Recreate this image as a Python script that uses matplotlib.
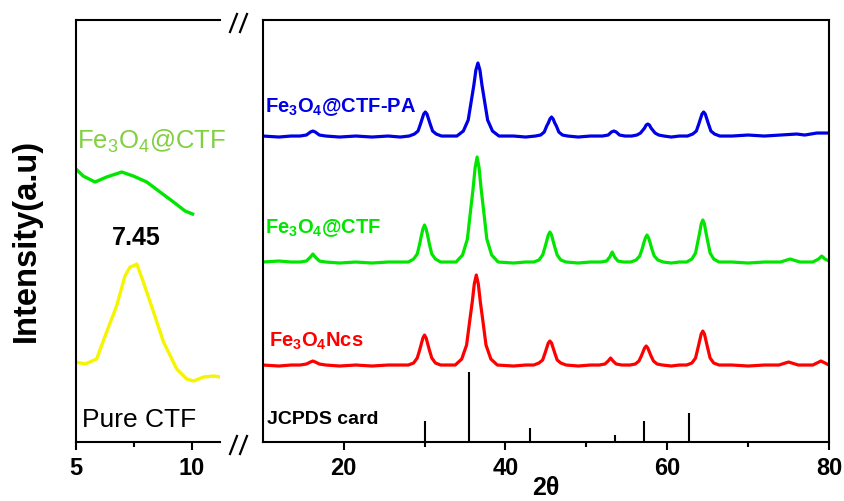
import matplotlib
matplotlib.use("Agg")
from matplotlib import pyplot as plt
from matplotlib.lines import Line2D
from matplotlib.ticker import FixedLocator

plt.rcParams['font.family'] = ['Liberation Sans', 'DejaVu Sans']
plt.rcParams['mathtext.fontset'] = 'custom'
plt.rcParams['mathtext.rm'] = 'Liberation Sans'
plt.rcParams['mathtext.bf'] = 'Liberation Sans:bold'

# --- right panel: XRD patterns (2theta, intensity a.u.) ---
pa_x = [10, 12, 13.5,
        14.6, 15.4, 15.9, 16.2, 16.5, 17.0, 17.8,
        19.5, 21.5, 23.5, 25.5, 27,
        28.1, 28.75, 29.2, 29.5, 29.7, 29.9, 30.1, 30.3, 30.5, 30.7, 31.0, 31.45, 32.1,
        34.0, 34.8, 35.4, 35.8, 36.1, 36.35, 36.6, 36.85, 37.1, 37.4, 37.8, 38.4, 39.2,
        41, 42.5,
        43.7, 44.35, 44.8, 45.1, 45.3, 45.5, 45.7, 45.9, 46.1, 46.3, 46.6, 47.05, 47.7,
        49, 50.5,
        52.0, 52.7, 53.1, 53.4, 53.7, 54.1, 54.8,
        55.6, 56.25, 56.7, 57.0, 57.2, 57.4, 57.6, 57.8, 58.0, 58.2, 58.5, 58.95, 59.6,
        60.5, 61.5,
        62.5, 63.15, 63.6, 63.9, 64.1, 64.3, 64.5, 64.7, 64.9, 65.1, 65.4, 65.85, 66.5,
        68, 70, 72, 74, 76, 77, 78.5, 80]
pa_y = [306, 305, 306,
        306, 307, 310, 311, 310, 307, 306,
        305, 306, 305, 306, 305,
        306, 308, 311, 318, 323, 328, 330, 328, 323, 318, 311, 308, 306,
        306, 311, 322, 342, 357, 372, 379, 372, 357, 342, 322, 311, 306,
        306, 305,
        306, 307, 310, 316, 319, 323, 325, 323, 319, 316, 310, 307, 306,
        305, 306,
        306, 307, 310, 311, 310, 307, 306,
        306, 307, 309, 312, 314, 317, 318, 317, 314, 312, 309, 307, 306,
        305, 306,
        306, 308, 311, 318, 323, 328, 330, 328, 323, 318, 311, 308, 306,
        306, 307, 306, 307, 308, 307, 309, 309]

ctf_x = [10, 12, 13.5,
         14.6, 15.4, 15.9, 16.2, 16.5, 17.0, 17.8,
         19.5, 21.5, 23.5, 25.5, 27,
         28.0, 28.65, 29.1, 29.4, 29.6, 29.8, 30.0, 30.2, 30.4, 30.6, 30.9, 31.35, 32.0,
         33.9, 34.7, 35.3, 35.7, 36.0, 36.25, 36.5, 36.75, 37.0, 37.3, 37.7, 38.3, 39.1,
         41, 42.5,
         43.5, 44.15, 44.6, 44.9, 45.1, 45.3, 45.5, 45.7, 45.9, 46.1, 46.4, 46.85, 47.5,
         49, 50.5,
         51.8, 52.5, 52.9, 53.2, 53.5, 53.9, 54.6,
         55.5, 56.15, 56.6, 56.9, 57.1, 57.3, 57.5, 57.7, 57.9, 58.1, 58.4, 58.85, 59.5,
         60.5, 61.5,
         62.4, 63.05, 63.5, 63.8, 64.0, 64.2, 64.4, 64.6, 64.8, 65.0, 65.3, 65.75, 66.4,
         68, 70, 72, 74, 75.2, 76.4, 78, 78.7, 79.1, 79.5, 80]
ctf_y = [180, 181, 180,
         180, 181, 185, 188, 185, 181, 180,
         179, 180, 179, 180, 180,
         180, 183, 188, 198, 206, 213, 217, 213, 206, 198, 188, 183, 180,
         180, 187, 203, 232, 253, 274, 285, 274, 253, 232, 203, 187, 180,
         179, 180,
         180, 182, 187, 195, 201, 207, 210, 207, 201, 195, 187, 182, 180,
         179, 180,
         180, 181, 185, 190, 185, 181, 180,
         180, 182, 186, 193, 199, 204, 207, 204, 199, 193, 186, 182, 180,
         179, 180,
         180, 183, 189, 201, 209, 218, 222, 218, 209, 201, 189, 183, 180,
         180, 179, 180, 180, 183, 180, 180, 183, 186, 183, 181]

ncs_x = [10, 12, 13.5,
         14.6, 15.4, 15.9, 16.2, 16.5, 17.0, 17.8,
         19.5, 21.5, 23.5, 25.5, 27,
         28.0, 28.65, 29.1, 29.4, 29.6, 29.8, 30.0, 30.2, 30.4, 30.6, 30.9, 31.35, 32.0,
         33.8, 34.6, 35.2, 35.6, 35.9, 36.15, 36.4, 36.65, 36.9, 37.2, 37.6, 38.2, 39.0,
         41, 42.5,
         43.5, 44.15, 44.6, 44.9, 45.1, 45.3, 45.5, 45.7, 45.9, 46.1, 46.4, 46.85, 47.5,
         49, 50.5,
         51.6, 52.3, 52.7, 53.0, 53.3, 53.7, 54.4,
         55.4, 56.05, 56.5, 56.8, 57.0, 57.2, 57.4, 57.6, 57.8, 58.0, 58.3, 58.75, 59.4,
         60.5, 61.5,
         62.4, 63.05, 63.5, 63.8, 64.0, 64.2, 64.4, 64.6, 64.8, 65.0, 65.3, 65.75, 66.4,
         68, 70, 72, 73.8, 75.0, 76.2, 78, 79.0, 80]
ncs_y = [77, 76, 77,
         77, 78, 80, 81, 80, 78, 77,
         76, 77, 76, 77, 77,
         77, 79, 84, 92, 98, 104, 107, 104, 98, 92, 84, 79, 77,
         77, 83, 97, 122, 140, 158, 167, 158, 140, 122, 97, 83, 77,
         76, 77,
         77, 79, 82, 89, 94, 99, 101, 99, 94, 89, 82, 79, 77,
         76, 77,
         77, 78, 81, 84, 81, 78, 77,
         77, 78, 81, 86, 90, 94, 96, 94, 90, 86, 81, 78, 77,
         76, 77,
         77, 79, 84, 94, 101, 108, 111, 108, 101, 94, 84, 79, 77,
         77, 76, 77, 77, 80, 77, 77, 81, 77]

jcpds_x = [30.0, 35.5, 43.1, 53.5, 57.1, 62.7]
jcpds_h = [21, 70, 14, 7.4, 21, 28.7]

# --- left panel: low-angle region ---
pure_x = [5.0, 5.4, 5.89, 6.32, 6.75, 7.11, 7.33, 7.45, 7.62, 7.9, 8.34, 8.77, 9.34, 9.77, 10.06, 10.5, 10.93, 11.2]
pure_y = [80, 78, 83, 110, 136, 166, 175, 176, 178, 160, 130, 100, 73, 63, 61, 65, 66, 65]

comp_x = [5.0, 5.31, 5.82, 6.32, 6.97, 7.47, 8.05, 8.62, 9.2, 9.7, 10.02]
comp_y = [273, 266, 260, 265, 270, 266, 260, 250, 240, 231, 228]

blue = '#0000e6'
green = '#00e600'
red = '#ff0000'
yellow = '#f5f500'

fig = plt.figure(figsize=(8.45, 5.02), dpi=100)
ax_l = fig.add_axes([0.0899, 0.1175, 0.1704, 0.8406])
ax_r = fig.add_axes([0.3109, 0.1175, 0.6702, 0.8406])

for ax in (ax_l, ax_r):
    ax.set_ylim(0, 422)
    ax.set_yticks([])
    for s in ax.spines.values():
        s.set_linewidth(1.5)
    ax.tick_params(axis='x', which='major', direction='out', length=6, width=1.5,
                   labelsize=17, pad=4)
    ax.tick_params(axis='x', which='minor', direction='out', length=3.5, width=1.5)

# left
ax_l.plot(pure_x, pure_y, color=yellow, lw=2.4)
ax_l.plot(comp_x, comp_y, color=green, lw=2.4)
ax_l.set_xlim(5, 11.2)
ax_l.set_xticks([5, 10])
ax_l.xaxis.set_minor_locator(FixedLocator([7.5]))
ax_l.spines['right'].set_visible(False)
ax_l.set_xticklabels(['5', '10'], fontweight='bold')
ax_l.text(5.05, 302, 'Fe$_3$O$_4$@CTF', color='#80d040', fontsize=18.5, va='center')
ax_l.text(7.6, 205, '7.45', color='black', fontsize=18, fontweight='bold', ha='center', va='center')
ax_l.text(5.25, 23, 'Pure CTF', color='black', fontsize=19, va='center')
ax_l.set_ylabel('Intensity(a.u)', fontsize=23.5, fontweight='bold')
ax_l.yaxis.set_label_coords(-0.24, 0.48)

# right
ax_r.plot(pa_x, pa_y, color=blue, lw=2.3)
ax_r.plot(ctf_x, ctf_y, color=green, lw=2.3)
ax_r.plot(ncs_x, ncs_y, color=red, lw=2.3)
ax_r.vlines(jcpds_x, 0, jcpds_h, color='black', lw=1.5)
ax_r.set_xlim(10, 80)
ax_r.set_xticks([20, 40, 60, 80])
ax_r.set_xticklabels(['20', '40', '60', '80'], fontweight='bold')
ax_r.xaxis.set_minor_locator(FixedLocator([30, 50, 70]))
ax_r.set_xlabel('2θ', fontsize=18, fontweight='bold', labelpad=-3)

ax_r.text(10.3, 336, r'Fe$_\mathbf{3}$O$_\mathbf{4}$@CTF-PA', color=blue, fontsize=14.5,
          fontweight='bold', va='center')
ax_r.text(10.3, 215, r'Fe$_\mathbf{3}$O$_\mathbf{4}$@CTF', color=green, fontsize=14.5,
          fontweight='bold', va='center')
ax_r.text(10.8, 102, r'Fe$_\mathbf{3}$O$_\mathbf{4}$Ncs', color=red, fontsize=14.5,
          fontweight='bold', va='center')
ax_r.text(10.5, 24, 'JCPDS card', color='black', fontsize=14, fontweight='bold', va='center')

# axis break marks (two slashes at top and bottom)
W, H = 845.0, 502.0
for y0 in (33, 455):
    for x0 in (230, 240):
        fig.add_artist(Line2D([x0 / W, (x0 + 7) / W], [1 - y0 / H, 1 - (y0 - 18) / H],
                              color='black', lw=1.6))

fig.savefig('out.png', dpi=100)
